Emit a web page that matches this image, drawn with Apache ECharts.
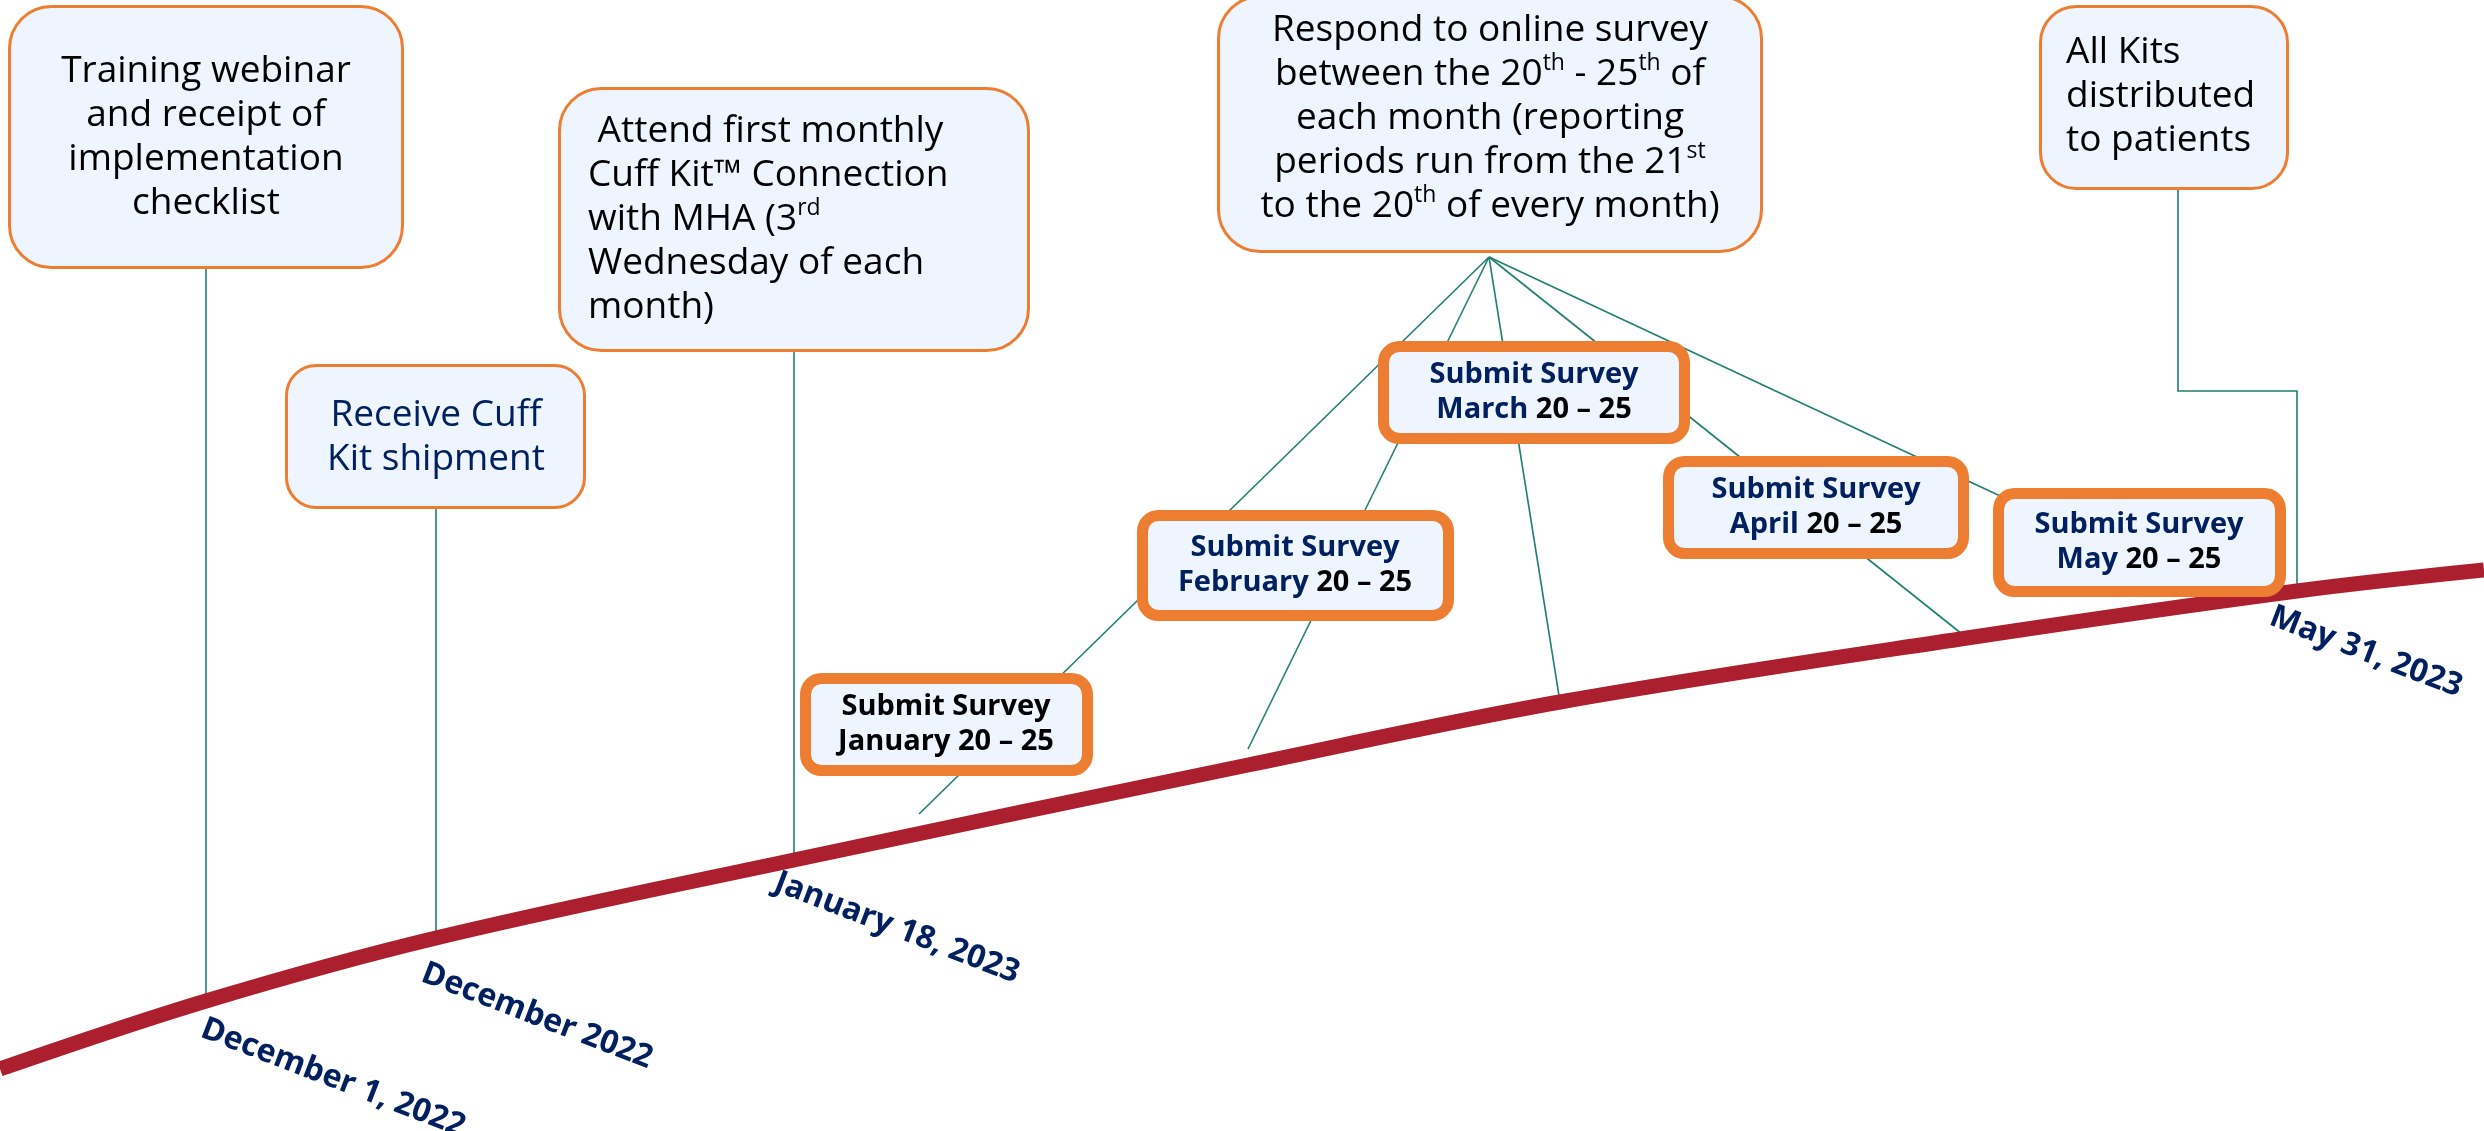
<!DOCTYPE html>
<html><head><meta charset="utf-8">
<script src="https://cdn.jsdelivr.net/npm/echarts@6/dist/echarts.min.js"></script>
<style>html,body{margin:0;padding:0;background:#fff}#c{width:2484px;height:1131px}</style>
</head><body><div id="c"></div>
<script>
// ---- timeline (chart units: canvas of 2484 x 1131) ----
const timelineX = [0, 206, 436, 794, 1248, 1560, 1967, 2297, 2484];
const timelineY = [1069, 1001, 938, 860, 765, 702, 638, 591, 570];

// ---- milestone date labels ----
const dateLabels = ['December 1, 2022', 'December 2022', 'January 18, 2023', 'May 31, 2023'];
const dateX = [333, 537, 897, 2366];
const dateY = [1078, 1016, 928, 652];

// ---- event boxes ----
const boxText = [
  'Training webinar\nand receipt of\nimplementation\nchecklist',
  'Receive Cuff\nKit shipment',
  ' Attend first monthly\nCuff Kit\u2122 Connection\nwith MHA (3{sup|rd}\nWednesday of each\nmonth)',
  'Respond to online survey\nbetween the 20{sup|th} - 25{sup|th} of\neach month (reporting\nperiods run from the 21{sup|st}\nto the 20{sup|th} of every month)',
  'All Kits\ndistributed\nto patients',
  '{k|Submit Survey}\n{k|January 20 \u2013 25}',
  '{n|Submit Survey}\n{n|February} {k|20 \u2013 25}',
  '{n|Submit Survey}\n{n|March} {k|20 \u2013 25}',
  '{n|Submit Survey}\n{n|April} {k|20 \u2013 25}',
  '{n|Submit Survey}\n{n|May} {k|20 \u2013 25}'
];
const boxX0 = [8, 285, 558, 1217, 2039, 800, 1137, 1378, 1663, 1993];
const boxY0 = [5, 364, 87, -5, 5, 673, 510, 341, 456, 488];
const boxX1 = [404, 586, 1030, 1763, 2289, 1093, 1454, 1690, 1969, 2286];
const boxY1 = [269, 509, 352, 253, 190, 776, 621, 444, 559, 597];
const textX = [206, 436, 588, 1490, 2066, 946, 1295, 1534, 1816, 2139];
const textY = [137, 437, 219, 118, 96, 724, 565, 392, 507, 542];
const textAlign = ['center', 'center', 'left', 'center', 'left', 'center', 'center', 'center', 'center', 'center'];
const boxKind = ['event', 'event', 'event', 'event', 'event', 'survey', 'survey', 'survey', 'survey', 'survey'];

// ---- connector lines ----
const connectors = [
  [[206, 269], [206, 1001]],
  [[436, 509], [436, 938]],
  [[794, 352], [794, 860]],
  [[2178, 190], [2178, 391], [2297, 391], [2297, 591]],
  [[1489, 257], [919, 814]],
  [[1489, 257], [1248, 749]],
  [[1489, 257], [1560, 702]],
  [[1489, 257], [1967, 638]],
  [[1489, 257], [2150, 566]]
];

const NAVY = '#002060', ORANGE = '#ED7D31', FILL = '#EEF5FE', TEAL = '#1F7F70', RED = '#AC1F2E';
const FONT = '"Open Sans", "Noto Sans", sans-serif';

const chart = echarts.init(document.getElementById('c'), null, {renderer: 'canvas'});

chart.setOption({
  animation: false,
  backgroundColor: '#fff',
  grid: {left: 0, right: 0, top: 0, bottom: 0},
  xAxis: {type: 'value', min: 0, max: 2484, show: false},
  yAxis: {type: 'value', min: 0, max: 1131, inverse: true, show: false},
  series: [
    {
      type: 'custom', z: 1, silent: true,
      data: connectors.map((c, i) => i),
      renderItem: function (params, api) {
        const pts = connectors[api.value(0)].map(p => api.coord(p));
        return {type: 'polyline', shape: {points: pts}, style: {stroke: TEAL, lineWidth: 1.6, fill: null}};
      }
    },
    {
      type: 'line', z: 2, silent: true, symbol: 'none', smooth: 0.35,
      data: timelineX.map((x, i) => [x, timelineY[i]]),
      lineStyle: {color: RED, width: 15}
    },
    {
      type: 'custom', z: 3, silent: true,
      data: boxText.map((t, i) => i),
      renderItem: function (params, api) {
        const i = api.value(0);
        const p0 = api.coord([boxX0[i], boxY0[i]]);
        const p1 = api.coord([boxX1[i], boxY1[i]]);
        const tp = api.coord([textX[i], textY[i]]);
        const survey = boxKind[i] === 'survey';
        const lw = survey ? 11 : 3;
        const r = survey ? 16 : (i === 1 ? 30 : (i === 4 ? 36 : 42));
        const rect = {
          type: 'rect',
          shape: {x: p0[0] + lw / 2, y: p0[1] + lw / 2, width: p1[0] - p0[0] - lw, height: p1[1] - p0[1] - lw, r: r},
          style: {fill: FILL, stroke: ORANGE, lineWidth: lw}
        };
        let textStyle;
        if (survey) {
          textStyle = {
            text: boxText[i], x: tp[0], y: tp[1], align: 'center', verticalAlign: 'middle',
            fontFamily: FONT, fontSize: 29, fontWeight: 'bold', lineHeight: 35, fill: '#000',
            rich: {
              n: {fill: NAVY, color: NAVY, fontFamily: FONT, fontSize: 29, fontWeight: 'bold', lineHeight: 35},
              k: {fill: '#000', color: '#000', fontFamily: FONT, fontSize: 29, fontWeight: 'bold', lineHeight: 35}
            }
          };
        } else {
          textStyle = {
            text: boxText[i], x: tp[0], y: tp[1], align: textAlign[i], verticalAlign: 'middle',
            fontFamily: FONT, fontSize: 37, lineHeight: 44, fill: i === 1 ? NAVY : '#000',
            rich: {
              sup: {fill: '#000', color: '#000', fontFamily: FONT, fontSize: 23, lineHeight: 24, verticalAlign: 'top'}
            }
          };
        }
        return {type: 'group', children: [rect, {type: 'text', style: textStyle}]};
      }
    },
    {
      type: 'custom', z: 4, silent: true,
      data: dateLabels.map((t, i) => i),
      renderItem: function (params, api) {
        const i = api.value(0);
        const p = api.coord([dateX[i], dateY[i]]);
        return {
          type: 'text', x: p[0], y: p[1], rotation: -21 * Math.PI / 180,
          style: {text: dateLabels[i], x: 0, y: 0, align: 'center', verticalAlign: 'middle',
                  fontFamily: FONT, fontSize: 32, fontWeight: 'bold', fill: NAVY}
        };
      }
    }
  ]
});
</script>
</body></html>
